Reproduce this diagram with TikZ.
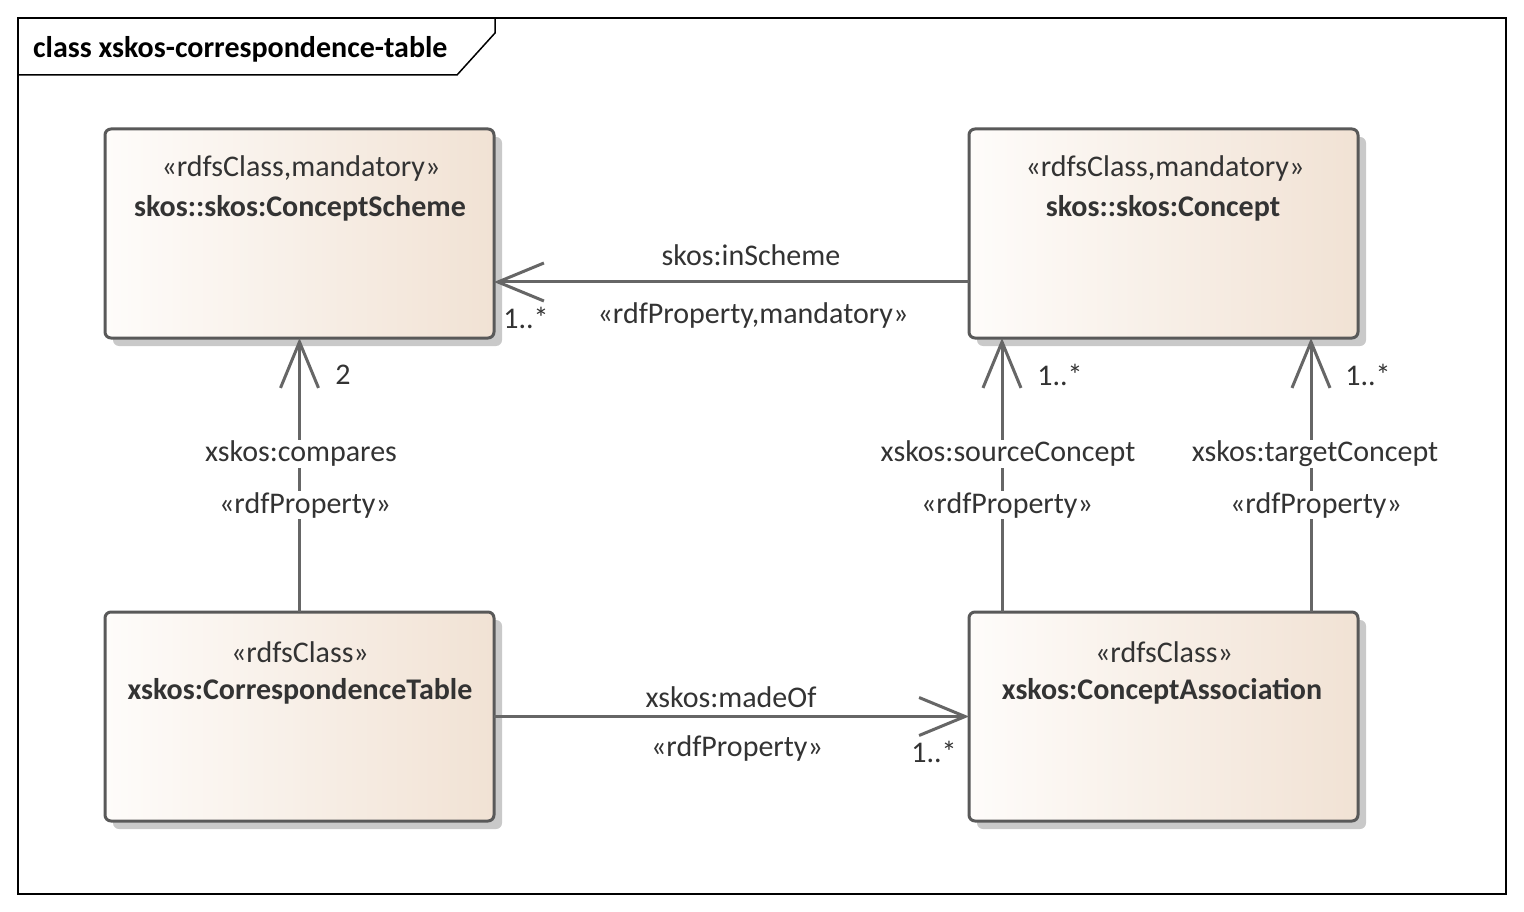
\documentclass[tikz,border=0pt]{standalone}
\usepackage{fontspec}
\setmainfont{Carlito}
\usetikzlibrary{arrows.meta}
\definecolor{boxedge}{HTML}{595959}
\definecolor{linegray}{HTML}{666666}
\definecolor{txt}{HTML}{333333}
\definecolor{shadowgray}{HTML}{C9C9C9}
\definecolor{fillL}{HTML}{FEFCFA}
\definecolor{fillR}{HTML}{F1E2D4}
\tikzset{
  classbox/.style={draw=boxedge, line width=3pt, rounded corners=6pt,
    left color=fillL, right color=fillR, minimum width=389pt, minimum height=209pt,
    inner sep=0pt, outer sep=0pt},
  boxshadow/.style={fill=shadowgray, rounded corners=6pt},
  stereo/.style={text=txt, font=\fontsize{30}{34}\selectfont, inner sep=0pt},
  cname/.style={text=txt, font=\bfseries\fontsize{30}{34}\selectfont, inner sep=0pt},
  lbl/.style={text=txt, font=\fontsize{30}{34}\selectfont, fill=white, inner sep=1pt},
  mult/.style={text=txt, font=\fontsize{30}{34}\selectfont, inner sep=0pt},
  assoc/.style={draw=linegray, line width=3pt,
    -{Straight Barb[length=46pt, width=38pt, line width=3pt]}},
}
\begin{document}
\begin{tikzpicture}[x=1pt, y=-1pt]
\useasboundingbox (0,0) rectangle (1524,912);
\fill[white] (0,0) rectangle (1524,912);

% diagram frame with its name tab
\draw[line width=1.5pt] (18,18) rectangle (1506,894);
\draw[line width=1.5pt] (495,18) -- (495,33) -- (457,75) -- (18,75);
\node[anchor=west, font=\bfseries\fontsize{30}{34}\selectfont, inner sep=0pt] (title) at (33,49) {class xskos-correspondence-table};

% shadows of the class boxes
\fill[boxshadow] (113,137) rectangle (502,346);
\fill[boxshadow] (977,137) rectangle (1366,346);
\fill[boxshadow] (113,620) rectangle (502,829);
\fill[boxshadow] (977,620) rectangle (1366,829);

% class boxes
\node[classbox] (cs) at (299.5,233.5) {};
\node[classbox] (cc) at (1163.5,233.5) {};
\node[classbox] (ct) at (299.5,716.5) {};
\node[classbox] (ca) at (1163.5,716.5) {};

\node[stereo] (csS) at (301,169) {«rdfsClass,mandatory»};
\node[cname]  (csN) at (300,208) {skos::skos:ConceptScheme};
\node[stereo] (ccS) at (1165,169) {«rdfsClass,mandatory»};
\node[cname]  (ccN) at (1163,208) {skos::skos:Concept};
\node[stereo] (ctS) at (300,652) {«rdfsClass»};
\node[cname]  (ctN) at (300,691) {xskos:CorrespondenceTable};
\node[stereo] (caS) at (1164,652) {«rdfsClass»};
\node[cname]  (caN) at (1162,691) {xskos:ConceptAssociation};

% associations
\draw[assoc] ([yshift=-48.5pt]cc.west) -- ([yshift=-48.5pt]cs.east);
\draw[assoc] (ct.north) -- (cs.south);
\draw[assoc] ([xshift=-161.5pt]ca.north) -- ([xshift=-161.5pt]cc.south);
\draw[assoc] ([xshift=147.5pt]ca.north) -- ([xshift=147.5pt]cc.south);
\draw[assoc] (ct.east) -- (ca.west);

% association labels
\node[lbl] (l1a) at (751,255) {skos:inScheme};
\node[lbl] (l1b) at (753,316) {«rdfProperty,mandatory»};
\node[mult] (m1) at (526,318) {1..*};

\node[lbl] (l2a) at (301,454) {xskos:compares};
\node[lbl] (l2b) at (305,505) {«rdfProperty»};
\node[mult] (m2) at (343,375) {2};

\node[lbl] (l3a) at (1008,454) {xskos:sourceConcept};
\node[lbl] (l3b) at (1007,505) {«rdfProperty»};
\node[mult] (m3) at (1060,375) {1..*};

\node[lbl] (l4a) at (1315,454) {xskos:targetConcept};
\node[lbl] (l4b) at (1316,505) {«rdfProperty»};
\node[mult] (m4) at (1368,375) {1..*};

\node[lbl] (l5a) at (731,697) {xskos:madeOf};
\node[lbl] (l5b) at (737,748) {«rdfProperty»};
\node[mult] (m5) at (934,752) {1..*};
\end{tikzpicture}
\end{document}
